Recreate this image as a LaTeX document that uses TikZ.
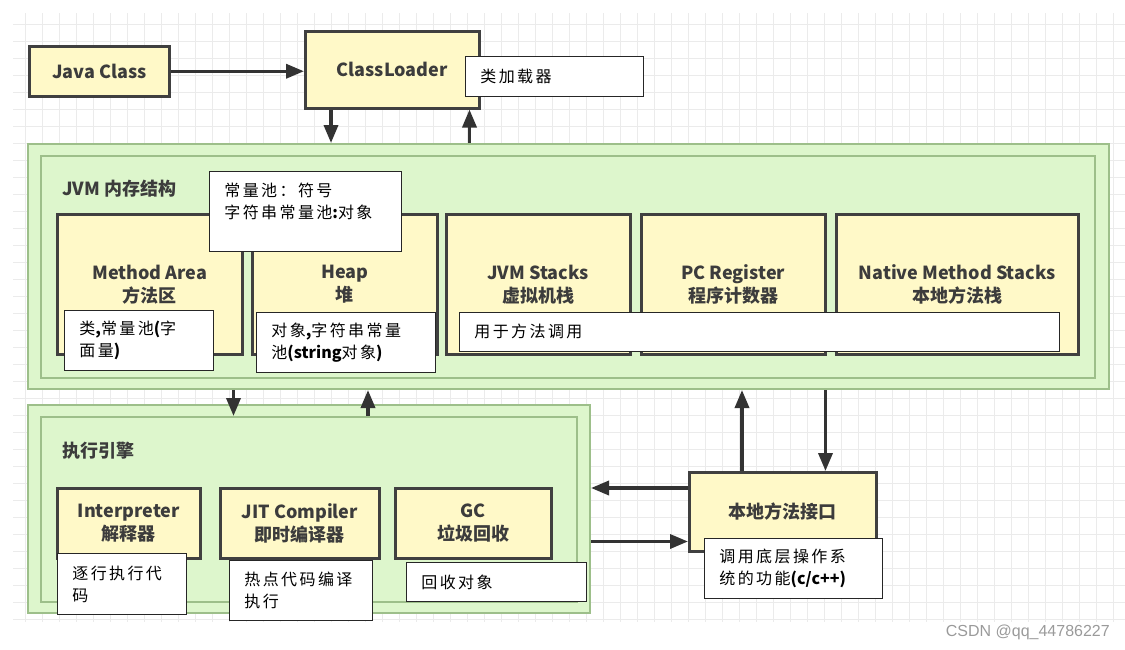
\documentclass[tikz,border=0pt]{standalone}
\usepackage{fontspec}
\setmainfont{Noto Sans CJK SC}
\newfontfamily\notefont{Noto Sans CJK SC}[LetterSpace=15]
\newfontfamily\markfont{Liberation Sans}
\usetikzlibrary{arrows.meta}
\definecolor{boxfill}{HTML}{FFF9C8}
\definecolor{boxline}{HTML}{404040}
\definecolor{labelgray}{HTML}{3C3C3C}
\definecolor{areafill}{HTML}{DDF6CC}
\definecolor{arealine}{HTML}{9DBF8A}
\definecolor{arrowgray}{HTML}{333333}
\definecolor{gridgray}{HTML}{EBEBEB}
\definecolor{markgray}{HTML}{9A9A9A}
\newcommand\latbold[1]{{\normalfont\bfseries\fontsize{16}{22}\selectfont #1}}

\begin{document}
\begin{tikzpicture}[x=1pt, y=-1pt,
  box/.style={draw=boxline, line width=2.5pt, fill=boxfill, text=labelgray, align=center,
    inner sep=0pt, anchor=north west, font=\bfseries\fontsize{18}{23}\selectfont},
  area/.style={draw=arealine, line width=2pt, fill=areafill, inner sep=0pt, anchor=north west},
  title/.style={anchor=west, inner sep=0pt, text=labelgray, font=\bfseries\fontsize{18}{23}\selectfont},
  note/.style={draw=black!85, line width=0.8pt, fill=white, align=left, inner xsep=15pt,
    inner ysep=0pt, anchor=north west, font=\notefont\fontsize{16}{22}\selectfont},
  flow/.style={draw=arrowgray, line width=3.5pt, -{Triangle[length=18pt,width=14pt]}}]
  \useasboundingbox (0,0) rectangle (1125,649);

  \foreach \gx in {25,42,...,1125} \draw[gridgray, line width=1pt] (\gx,13) -- (\gx,622);
  \foreach \gy in {24,41,...,622} \draw[gridgray, line width=1pt] (13,\gy) -- (1125,\gy);

  \node[box, minimum width=140, minimum height=50] (javaclass) at (28,45) {Java Class};
  \node[box, minimum width=174, minimum height=77] (loader) at (304,30) {ClassLoader};
  \node[note, text width=148, minimum height=40] (loadnote) at (465,56) {类加载器};

  \node[area, minimum width=1081, minimum height=245] (jvmout) at (27,143) {};
  \node[area, minimum width=1054, minimum height=222] (jvmin) at (40,155) {};
  \node[title] (jvmtitle) at (62,189) {JVM 内存结构};

  \node[box, minimum width=185, minimum height=140] (method) at (56,213) {Method Area\\方法区};
  \node[box, minimum width=185, minimum height=140] (heap) at (251,213) {Heap\\堆};
  \node[box, minimum width=184, minimum height=140] (jvmstack) at (445,213) {JVM Stacks\\虚拟机栈};
  \node[box, minimum width=184, minimum height=140] (pcreg) at (640,213) {PC Register\\程序计数器};
  \node[box, minimum width=242, minimum height=140] (nativestack) at (835,213) {Native Method Stacks\\本地方法栈};

  \node[note, text width=162, minimum height=80] (poolnote) at (209,171) {常量池：符号\\字符串常量池\latbold{:}对象\\\mbox{}};
  \node[note, text width=119, minimum height=60] (methodnote) at (64,310) {类\latbold{,}常量池\latbold{(}字\\面量\latbold{)}};
  \node[note, text width=149, minimum height=60] (heapnote) at (256,312) {对象\latbold{,}字符串常量\\池\latbold{(string}对象\latbold{)}};
  \node[note, text width=570, minimum height=39] (stacknote) at (459,312) {用于方法调用};

  \node[area, minimum width=562, minimum height=208] (execout) at (27,404) {};
  \node[area, minimum width=536, minimum height=185] (execin) at (40,416) {};
  \node[title] (exectitle) at (62,451) {执行引擎};

  \node[box, minimum width=143, minimum height=70] (interp) at (56,487) {Interpreter\\解释器};
  \node[box, minimum width=159, minimum height=70] (jit) at (219,487) {JIT Compiler\\即时编译器};
  \node[box, minimum width=156, minimum height=70] (gc) at (394,487) {GC\\垃圾回收};

  \node[note, text width=99, minimum height=61] (interpnote) at (57,553) {逐行执行代\\码};
  \node[note, text width=113, minimum height=60] (jitnote) at (229,560) {热点代码编译\\执行};
  \node[note, text width=150, minimum height=39] (gcnote) at (406,562) {回收对象};

  \node[box, minimum width=187, minimum height=79] (jni) at (688,471) {本地方法接口};
  \node[note, text width=148, minimum height=60] (jninote) at (704,538) {调用底层操作系\\统的功能\latbold{(c/c++)}};

  \node[anchor=east, inner sep=0pt, text=markgray, font=\markfont\fontsize{16}{18}\selectfont] (mark) at (1110,632) {CSDN @qq\_44786227};

  \coordinate (loadin) at ([xshift=27pt]loader.south west);
  \coordinate (loadout) at ([xshift=-11pt]loader.south east);
  \coordinate (down1) at ([xshift=-10pt]method.south east);
  \coordinate (up1) at ([xshift=117pt]heap.south west);
  \coordinate (jniup) at ([xshift=54pt]jni.north west);
  \coordinate (jnidown) at ([xshift=-52pt]jni.north east);
  \coordinate (jnileft) at ([yshift=-17pt]jni.north west);
  \coordinate (jniright) at ([yshift=11pt]jni.south west);

  \draw[flow] (javaclass.east) -- (javaclass.east -| loader.west);
  \draw[flow] (loadin) -- (loadin |- jvmout.north);
  \draw[flow] (loadout |- jvmout.north) -- (loadout);
  \draw[flow] (down1 |- jvmout.south) -- (down1 |- execin.north);
  \draw[flow] (up1 |- execin.north) -- (up1 |- jvmout.south);
  \draw[flow] (jniup) -- (jniup |- jvmout.south);
  \draw[flow] (jnidown |- jvmout.south) -- (jnidown);
  \draw[flow] (jnileft) -- (jnileft -| execout.east);
  \draw[flow] (jniright -| execout.east) -- (jniright);
\end{tikzpicture}
\end{document}
